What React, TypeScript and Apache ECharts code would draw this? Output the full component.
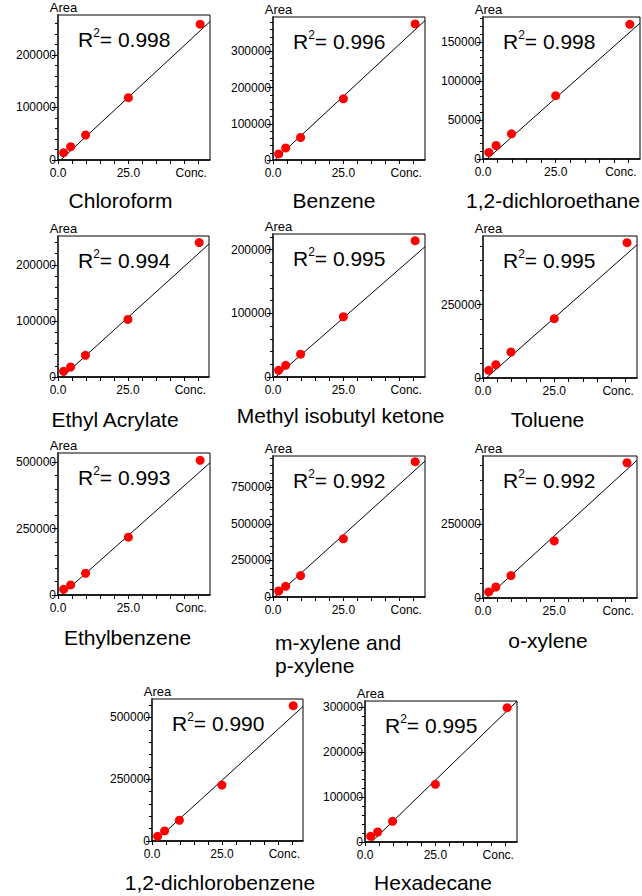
import React, { useEffect, useRef } from 'react';
import * as echarts from 'echarts';

// ---------------- data ----------------
const compounds = [
  'Chloroform',
  'Benzene',
  '1,2-dichloroethane',
  'Ethyl Acrylate',
  'Methyl isobutyl ketone',
  'Toluene',
  'Ethylbenzene',
  'm-xylene and\np-xylene',
  'o-xylene',
  '1,2-dichlorobenzene',
  'Hexadecane',
];
const r2Values = ['0.998', '0.996', '0.998', '0.994', '0.995', '0.995', '0.993', '0.992', '0.992', '0.990', '0.995'];

const concentrations = [2, 4.5, 9.8, 25, 50.5];

const chloroformArea = [13900, 25300, 47600, 118700, 258500];
const benzeneArea = [16700, 33400, 62100, 169000, 376000];
const dichloroethaneArea = [8400, 17300, 32300, 81100, 172600];
const ethylAcrylateArea = [10100, 17800, 38600, 102700, 239800];
const mibkArea = [10500, 18400, 35800, 94700, 214200];
const tolueneArea = [26100, 45500, 88600, 202300, 461400];
const ethylbenzeneArea = [21400, 37800, 81900, 217900, 507500];
const mpXyleneArea = [41200, 73200, 146400, 397900, 926200];
const oXyleneArea = [20400, 37300, 75800, 193400, 458100];
const dichlorobenzeneArea = [19000, 40700, 84000, 226300, 547400];
const hexadecaneArea = [12600, 22200, 45900, 128100, 298500];

const areaSeries = [
  chloroformArea, benzeneArea, dichloroethaneArea, ethylAcrylateArea, mibkArea,
  tolueneArea, ethylbenzeneArea, mpXyleneArea, oXyleneArea, dichlorobenzeneArea, hexadecaneArea,
];

// regression lines
const fitSlope = [4966, 7212, 3311, 4519, 3859, 8586, 9434, 17413, 8827, 10305, 6051];
const fitIntercept = [-4770, -4330, -4635, -6780, -3630, -9870, -11320, -10450, -10150, -12370, -13920];

// axes
const yAxisMax = [276000, 395000, 182000, 251500, 224700, 484000, 535000, 965000, 481000, 574500, 313300];
const yMajorStep = [100000, 100000, 50000, 100000, 100000, 250000, 250000, 250000, 250000, 250000, 100000];
const yMinorStep = [20000, 20000, 10000, 20000, 20000, 50000, 50000, 50000, 50000, 50000, 20000];
const xTickValues = [0, 5, 10, 15, 20, 25, 30, 35, 40, 45, 50];
const xLabelValues = [0, 25, 50];
const X_MAX = 54;

// ---------------- layout ----------------
// plot boxes: [left, top, right, bottom]
const boxes = [
  [58, 15, 210, 160],
  [273, 17, 425, 160],
  [483, 17, 640, 159],
  [58, 236, 209, 377],
  [273, 234, 425, 377],
  [483, 236, 637, 378],
  [58, 453, 210, 595],
  [273, 456, 425, 597],
  [483, 456, 637, 598],
  [152, 699, 303, 841],
  [365, 701, 517, 842],
];
// title centre x, cap-centre y
const titlePos = [
  [120.5, 200.5],
  [334, 200.5],
  [553, 200.5],
  [115, 419],
  [340.6, 415.5],
  [547.5, 419],
  [127.5, 637.5],
  [275, 642.5],
  [548, 640.5],
  [220, 882.5],
  [433, 882.5],
];

const FONT = '"Liberation Sans", Arial, sans-serif';

function ticksBetween(step: number, max: number) {
  const out: number[] = [];
  for (let v = 0; v <= max + 1e-6; v += step) out.push(v);
  return out;
}

function buildOption() {
  const grid: any[] = [];
  const xAxis: any[] = [];
  const yAxis: any[] = [];
  const series: any[] = [];
  const graphic: any[] = [];

  compounds.forEach((name, i) => {
    const [l, t, r, b] = boxes[i];
    grid.push({
      left: l, top: t, width: r - l, height: b - t,
      show: true, borderColor: '#000', borderWidth: 1, backgroundColor: '#fff',
    });
    xAxis.push({
      type: 'value', gridIndex: i, min: 0, max: X_MAX,
      axisLine: { show: true, onZero: false, lineStyle: { color: '#000', width: 1.5 } },
      axisTick: { show: true, customValues: xTickValues, length: 4, lineStyle: { color: '#000', width: 1 } },
      axisLabel: {
        show: true, customValues: xLabelValues, margin: 6.5, fontSize: 12, color: '#000', fontFamily: FONT,
        formatter: (v: number) => (v === 50 ? '{c|Conc.}' : v.toFixed(1)),
        rich: { c: { fontSize: 12, color: '#000', fontFamily: FONT, padding: [0, 15, 0, 0] } },
      },
      splitLine: { show: false },
    });
    const majors = ticksBetween(yMajorStep[i], yAxisMax[i]);
    const minors = ticksBetween(yMinorStep[i], yAxisMax[i]).filter((v) => majors.indexOf(v) < 0);
    yAxis.push({
      type: 'value', gridIndex: i, min: 0, max: yAxisMax[i], position: 'left',
      axisLine: { show: true, onZero: false, lineStyle: { color: '#3a3a3a', width: 2 } },
      axisTick: { show: true, customValues: majors, length: 6, lineStyle: { color: '#000', width: 1 } },
      axisLabel: {
        show: true, customValues: majors, margin: 2, fontSize: 12, color: '#000', fontFamily: FONT,
        formatter: (v: number) => String(Math.round(v)),
      },
      splitLine: { show: false },
      name: 'Area', nameLocation: 'end', nameGap: 1,
      nameTextStyle: { fontSize: 13, color: '#000', fontFamily: FONT, align: 'center', padding: [0, 0, 0, 11] },
    });
    yAxis.push({
      type: 'value', gridIndex: i, min: 0, max: yAxisMax[i], position: 'left',
      axisLine: { show: false },
      axisTick: { show: true, customValues: minors, length: 3, lineStyle: { color: '#000', width: 1 } },
      axisLabel: { show: false },
      splitLine: { show: false },
    });
    series.push({
      type: 'line', xAxisIndex: i, yAxisIndex: 2 * i, clip: true, symbol: 'none', silent: true,
      data: [[0, fitIntercept[i]], [X_MAX, fitSlope[i] * X_MAX + fitIntercept[i]]],
      lineStyle: { color: '#000', width: 1 }, z: 2,
    });
    series.push({
      type: 'scatter', xAxisIndex: i, yAxisIndex: 2 * i, symbolSize: 9,
      data: concentrations.map((c, k) => [c, areaSeries[i][k]]),
      itemStyle: { color: '#ff0000', opacity: 1 }, z: 3,
    });
    // R² annotation
    graphic.push({
      type: 'text', x: l + 20, y: t + 24, z: 10,
      style: {
        text: `{r|R}{s|2}{r|= ${r2Values[i]}}`,
        align: 'left', textAlign: 'left', verticalAlign: 'middle', textVerticalAlign: 'middle',
        rich: {
          r: { fontSize: 21, fontFamily: FONT, fill: '#000', color: '#000', lineHeight: 24 },
          s: { fontSize: 12, fontFamily: FONT, fill: '#000', color: '#000', lineHeight: 21, verticalAlign: 'top' },
        },
      },
    });
    // compound title
    const [tx, ty] = titlePos[i];
    const multi = name.indexOf('\n') >= 0;
    graphic.push({
      type: 'text', x: tx, y: multi ? ty - 11.5 : ty, z: 10,
      style: {
        text: name, fontSize: 21, fontFamily: FONT, fill: '#000', lineHeight: 23,
        align: multi ? 'left' : 'center', textAlign: multi ? 'left' : 'center',
        verticalAlign: multi ? 'top' : 'middle', textVerticalAlign: multi ? 'top' : 'middle',
      },
    });
  });

  return {
    animation: false,
    backgroundColor: '#fff',
    grid, xAxis, yAxis, series, graphic,
  };
}

export default function App() {
  const ref = useRef<HTMLDivElement>(null);
  useEffect(() => {
    if (!ref.current) return;
    const chart = echarts.init(ref.current, undefined, { renderer: 'svg' });
    chart.setOption(buildOption() as any);
    return () => chart.dispose();
  }, []);
  return (
    <div
      ref={ref}
      style={{ position: 'absolute', left: 0, top: 0, width: 642, height: 896, background: '#fff' }}
    />
  );
}
